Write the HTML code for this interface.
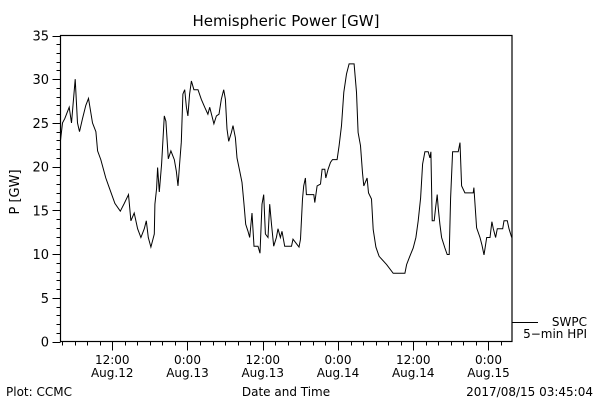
<!DOCTYPE html>
<html><head><meta charset="utf-8"><style>
body{margin:0;background:#fff;}
svg{display:block;font-family:"DejaVu Sans","Liberation Sans",sans-serif;}
</style></head><body>
<svg id="chart" width="600" height="400" viewBox="0 0 600 400">
<rect x="0" y="0" width="600" height="400" fill="#fff"/>
<text x="286" y="26" font-size="15" text-anchor="middle">Hemispheric Power [GW]</text>
<text transform="translate(19,192) rotate(-90)" font-size="13" text-anchor="middle">P [GW]</text>
<text x="286" y="396" font-size="12" text-anchor="middle">Date and Time</text>
<text x="6" y="396" font-size="12">Plot: CCMC</text>
<text x="593" y="396" font-size="12" text-anchor="end">2017/08/15 03:45:04</text>
<g id="axes"></g>
<polyline id="series" fill="none" stroke="#000" stroke-width="1"/>
<rect x="60.5" y="35.5" width="451.5" height="306" fill="none" stroke="#000" stroke-width="1.2"/>
<line x1="512" y1="322.5" x2="538" y2="322.5" stroke="#000"/>
<text x="587" y="326" font-size="12" text-anchor="end">SWPC</text>
<text x="587" y="338" font-size="12" text-anchor="end">5−min HPI</text>
</svg>
<script>
const hours = [3.7,4.07,4.44,5.14,5.51,6.10,6.46,6.78,7.26,7.79,8.22,8.86,9.39,9.66,10.18,10.98,11.52,12.42,13.28,13.92,14.6,14.97,15.51,16.04,16.57,17.11,17.43,17.75,18.17,18.71,18.8,19.08,19.24,19.51,19.87,20.3,20.56,20.94,21.36,21.9,
22.22,22.48,22.75,23.02,23.27,23.55,23.82,24.07,24.34,24.62,25.03,25.67,26.21,26.74,27.26,27.54,27.9,28.22,28.61,29.02,29.4,29.77,30.04,30.3,30.57,31.0,31.26,31.64,31.89,32.33,32.69,33.01,33.28,33.65,33.92,34.29,34.61,35.25,35.57,35.89,36.16,36.43,36.84,37.11,37.39,37.75,38.18,38.44,38.82,39.08,39.51,40.58,40.83,
41.79,42.02,42.34,42.54,42.81,42.97,44.14,44.3,44.67,45.21,45.46,45.9,46.05,46.42,46.8,47.12,47.86,48.18,48.56,48.93,49.36,49.77,50.57,50.96,51.21,51.59,51.91,52.12,52.65,52.87,53.35,53.61,54.04,54.56,55.75,56.8,58.67,58.94,59.46,
59.99,60.42,60.79,61.17,61.49,61.86,62.39,62.66,62.82,63.02,63.34,63.57,63.82,63.98,64.25,64.53,65.05,65.42,65.74,65.96,66.28,67.17,67.45,67.72,68.24,69.57,69.68,70.11,70.64,70.96,71.28,71.71,72.24,72.55,72.76,73.14,73.4,74.26,74.47,75.0,75.27,75.7];
const power = [23,25,25.5,26.8,25,30,25,24,25.5,27,27.8,25,24,21.8,20.8,18.7,17.6,15.8,14.9,15.8,16.8,13.8,14.7,12.9,11.9,12.9,13.8,11.9,10.8,12.3,15.7,17.5,19.9,17.1,20.3,25.8,25.2,20.9,21.8,20.8,
19.5,17.8,20.3,22.8,28.3,28.8,26.8,25.8,28.3,29.8,28.8,28.8,27.7,26.8,26.0,26.8,25.8,24.9,25.8,26,27.7,28.8,27.7,24.3,22.9,23.9,24.7,23.3,21,19.5,18.2,15.7,13.4,12.6,11.9,14.7,10.9,10.9,10.1,15.7,16.8,12.3,11.9,15.7,13.4,10.9,11.9,12.9,11.9,12.6,10.9,10.9,11.7,
10.8,11.7,16.3,17.8,18.7,16.8,16.8,15.9,17.8,18,19.7,19.7,18.7,19.7,20.5,20.8,20.8,22.4,24.7,28.5,30.6,31.75,31.75,28.5,23.9,22.4,19.3,17.8,18.7,17,16.3,12.8,10.8,9.75,8.8,7.8,7.8,8.8,9.75,
10.7,11.9,13.8,16.4,20.3,21.7,21.7,21,21.7,13.8,13.8,15.3,16.8,15.3,13.4,11.9,10.7,9.95,9.95,16.4,21.7,21.7,22.75,17.8,17,17,17.6,13,11.9,11,9.9,11.9,11.9,13.7,12.9,11.9,12.9,12.9,13.8,13.8,12.9,11.9];
const yTicks = [0,5,10,15,20,25,30,35];
const xTickHours = [12,24,36,48,60,72];
const xTickLabels = [["12:00","Aug.12"],["0:00","Aug.13"],["12:00","Aug.13"],["0:00","Aug.14"],["12:00","Aug.14"],["0:00","Aug.15"]];
const xMin = 3.75, xMax = 75.75, yMin = 0, yMax = 35;
const L = 60.5, R = 512, T = 35.5, B = 341.5;
function xs(h){ return L + (h - xMin) / (xMax - xMin) * (R - L); }
function ys(v){ return B - (v - yMin) / (yMax - yMin) * (B - T); }
const NS = "http://www.w3.org/2000/svg";
const axes = document.getElementById('axes');
function mk(tag, attrs){ const e = document.createElementNS(NS, tag); for (const k in attrs) e.setAttribute(k, attrs[k]); axes.appendChild(e); return e; }
for (let v = yMin; v <= yMax; v++) {
  const y = Math.round(ys(v)) + 0.5;
  const major = v % 5 === 0;
  const t = mk('line', {x1: L - (major ? 8 : 4), x2: L, y1: y, y2: y, stroke: '#000'});
  
  
}
yTicks.forEach(v => {
  const t = mk('text', {x: 49, y: ys(v) + 5, 'font-size': 13, 'text-anchor': 'end'});
  t.textContent = v;
  
  
});
for (let h = 4; h < xMax; h += 2) {
  const x = Math.round(xs(h)) + 0.5;
  const major = xTickHours.includes(h);
  const t = mk('line', {x1: x, x2: x, y1: B, y2: B + (major ? 9 : 4), stroke: '#000'});
  
  
}
xTickHours.forEach((h, i) => {
  const t1 = mk('text', {x: xs(h), y: 364, 'font-size': 12, 'text-anchor': 'middle'});
  t1.textContent = xTickLabels[i][0];
  
  
  const t2 = mk('text', {x: xs(h), y: 377, 'font-size': 12, 'text-anchor': 'middle'});
  t2.textContent = xTickLabels[i][1];
  
  
});
document.getElementById('series').setAttribute('points',
  hours.map((h, i) => xs(Math.max(h, xMin)).toFixed(1) + ',' + ys(power[i]).toFixed(1)).join(' '));
</script>
</body></html>
